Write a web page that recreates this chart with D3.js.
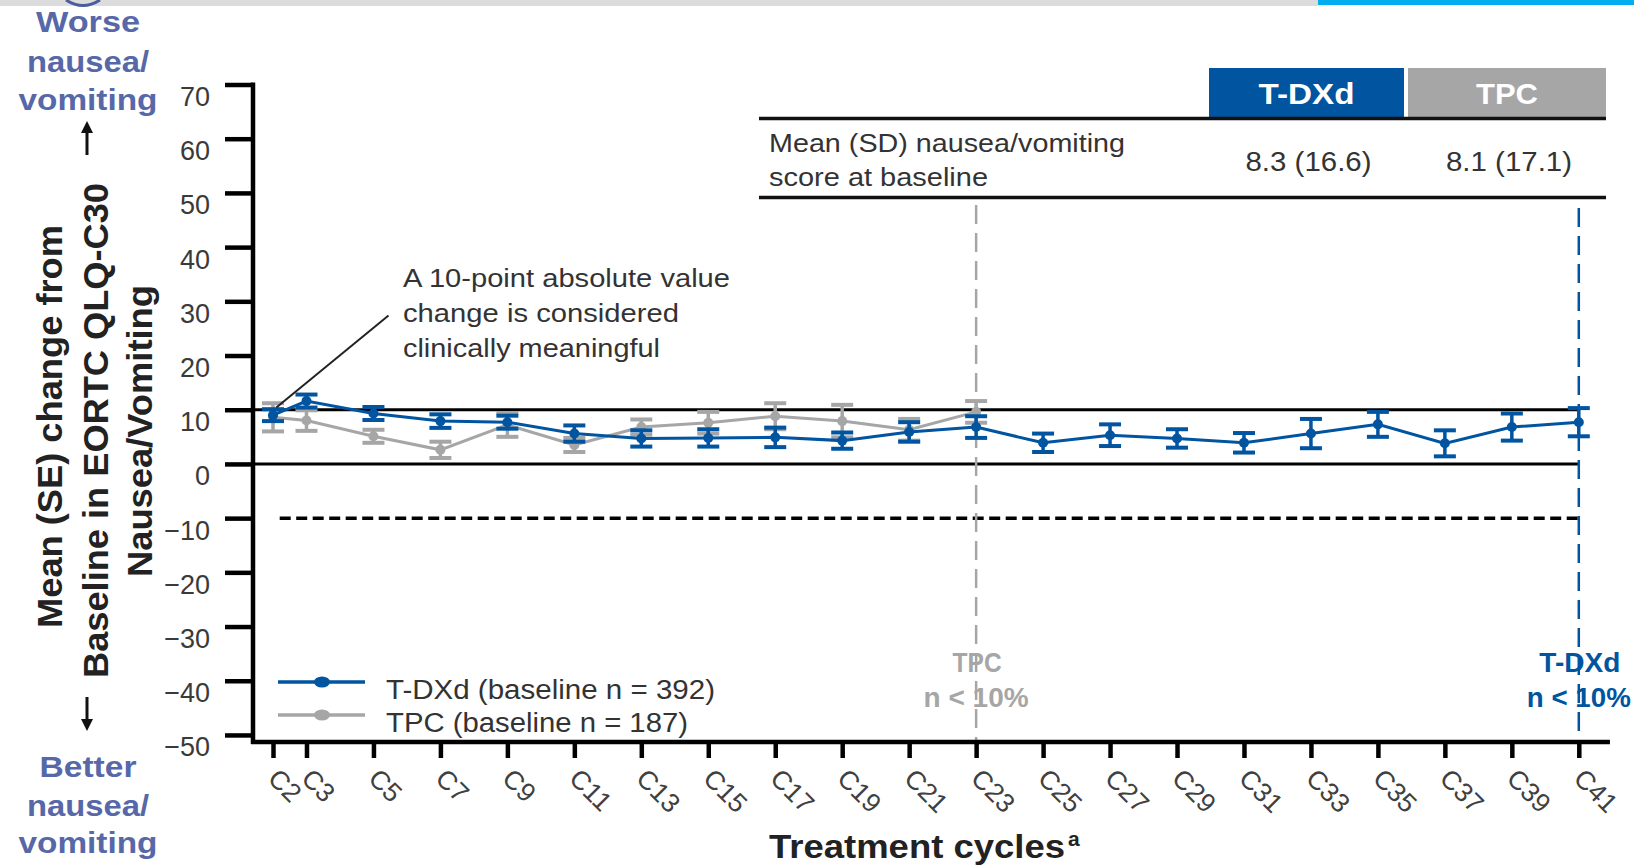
<!DOCTYPE html>
<html>
<head>
<meta charset="utf-8">
<script src="https://cdn.jsdelivr.net/npm/d3@7"></script>
<style>
  html, body { margin: 0; padding: 0; background: #fff; }
  svg { display: block; font-family: "Liberation Sans", Arial, sans-serif; }
</style>
</head>
<body>
<svg id="chart" width="1634" height="867"></svg>
<script>
// ---------------- data ----------------
const cycles = [2, 3, 5, 7, 9, 11, 13, 15, 17, 19, 21, 23, 25, 27, 29, 31, 33, 35, 37, 39, 41];
const tdxdMean = [9.0, 11.6, 9.3, 7.9, 7.7, 5.6, 4.7, 4.8, 4.9, 4.3, 5.9, 6.8, 3.9, 5.3, 4.7, 3.9, 5.6, 7.3, 3.8, 6.8, 7.7];
const tdxdSE   = [1.1, 1.2, 1.2, 1.25, 1.2, 1.5, 1.5, 1.6, 1.8, 1.5, 1.8, 2.0, 1.7, 2.0, 1.7, 1.8, 2.7, 2.3, 2.4, 2.5, 2.6];
const tpcCycles = [2, 3, 5, 7, 9, 11, 13, 15, 17, 19, 21, 23];
const tpcMean = [8.6, 8.0, 5.1, 2.6, 7.2, 3.5, 6.8, 7.6, 8.8, 7.9, 6.3, 9.6];
const tpcSE   = [2.6, 1.9, 1.2, 1.5, 2.2, 1.3, 1.4, 2.0, 2.4, 3.0, 2.0, 2.0];
const yTicks = [-50, -40, -30, -20, -10, 0, 10, 20, 30, 40, 50, 60, 70];
const xTickLabels = cycles.map(c => "C" + c);
const seriesNames = ["T-DXd (baseline  n = 392)", "TPC (baseline n = 187)"];
const tableHeaders = ["T-DXd", "TPC"];
const tableRowLabel = ["Mean (SD) nausea/vomiting", "score at baseline"];
const tableValues = ["8.3 (16.6)", "8.1 (17.1)"];
const cutoffCycles = { TPC: 23, TDXd: 41 };
const mcidValue = 10;

// ---------------- setup ----------------
const BLUE = "#0054a0", GRAY = "#a6a6a6", SIDE = "#5668a8", TXT = "#333333";
const svg = d3.select("#chart");
const x = d3.scaleLinear().domain([2, 41]).range([273, 1578.8]);
const y = d3.scaleLinear().domain([-51.3, 70]).range([742, 84.5]);

// slide decoration at top
svg.append("rect").attr("x", 0).attr("y", 0).attr("width", 1318).attr("height", 6).attr("fill", "#dcdcdc");
svg.append("rect").attr("x", 1318).attr("y", 0).attr("width", 316).attr("height", 5).attr("fill", "#00aeef");
svg.append("path").attr("d", "M66,0 Q83,11 100,0").attr("fill", "none").attr("stroke", "#4a5d9e").attr("stroke-width", 3);

// ---------------- reference lines ----------------
const refG = svg.append("g");
[mcidValue, 0].forEach(v => {
  refG.append("line").attr("x1", 253).attr("x2", x(41)).attr("y1", y(v)).attr("y2", y(v))
    .attr("stroke", "#000").attr("stroke-width", 3);
});
refG.append("line").attr("x1", x(2.2)).attr("x2", x(41)).attr("y1", y(-mcidValue)).attr("y2", y(-mcidValue))
  .attr("stroke", "#000").attr("stroke-width", 3.5).attr("stroke-dasharray", "11,5.5");

// vertical cut-off lines
refG.append("line").attr("x1", x(cutoffCycles.TPC)).attr("x2", x(cutoffCycles.TPC))
  .attr("y1", 205).attr("y2", 742).attr("stroke", GRAY).attr("stroke-width", 2.5).attr("stroke-dasharray", "19,9");
refG.append("line").attr("x1", x(cutoffCycles.TDXd)).attr("x2", x(cutoffCycles.TDXd))
  .attr("y1", 208).attr("y2", 742).attr("stroke", BLUE).attr("stroke-width", 2.5).attr("stroke-dasharray", "19,9");

// ---------------- axes ----------------
const yAxis = d3.axisLeft(y).tickValues(yTicks).tickSize(28).tickSizeOuter(0)
  .tickFormat(d => d < 0 ? "\u2212" + Math.abs(d) : String(d));
const yg = svg.append("g").attr("transform", "translate(253,0)").call(yAxis);
yg.select(".domain").attr("stroke", "#000").attr("stroke-width", 4.5)
  .attr("d", `M0,${y(70) - 2}V${y(-51.3) + 2}`);
yg.selectAll(".tick line").attr("stroke", "#000").attr("stroke-width", 4.5);
yg.selectAll(".tick text").attr("x", -43).attr("dy", 21).attr("font-size", 27)
  .attr("fill", "#3a3a3a").attr("font-family", "Liberation Sans, Arial, sans-serif");

const xAxis = d3.axisBottom(x).tickValues(cycles).tickSize(16).tickSizeOuter(0).tickFormat((d, i) => xTickLabels[i]);
const xg = svg.append("g").attr("transform", `translate(0,${y(-51.3)})`).call(xAxis);
xg.select(".domain").attr("stroke", "#000").attr("stroke-width", 4.5)
  .attr("d", `M${x(1.35)},0H${x(41.93)}`);
xg.selectAll(".tick line").attr("stroke", "#000").attr("stroke-width", 4.5);
xg.selectAll(".tick text")
  .attr("font-size", 26.5).attr("fill", "#404040").attr("font-family", "Liberation Sans, Arial, sans-serif")
  .attr("text-anchor", "start").attr("dy", null).attr("y", null)
  .attr("transform", "translate(-7,38) rotate(45)");

// ---------------- series ----------------
function drawSeries(xs, means, ses, color) {
  const g = svg.append("g");
  const pts = xs.map((c, i) => ({ c, m: means[i], se: ses[i] }));
  g.append("path").datum(pts)
    .attr("d", d3.line().x(d => x(d.c)).y(d => y(d.m)))
    .attr("fill", "none").attr("stroke", color).attr("stroke-width", 3);
  const eb = g.selectAll(".eb").data(pts).enter().append("g");
  eb.append("line").attr("x1", d => x(d.c)).attr("x2", d => x(d.c))
    .attr("y1", d => y(d.m + d.se)).attr("y2", d => y(d.m - d.se))
    .attr("stroke", color).attr("stroke-width", 3.5);
  [1, -1].forEach(s => {
    eb.append("line").attr("x1", d => x(d.c) - 11).attr("x2", d => x(d.c) + 11)
      .attr("y1", d => y(d.m + s * d.se)).attr("y2", d => y(d.m + s * d.se))
      .attr("stroke", color).attr("stroke-width", 4);
  });
  eb.append("circle").attr("cx", d => x(d.c)).attr("cy", d => y(d.m)).attr("r", 5).attr("fill", color);
}
drawSeries(tpcCycles, tpcMean, tpcSE, GRAY);
drawSeries(cycles, tdxdMean, tdxdSE, BLUE);

// ---------------- annotation ----------------
svg.append("line").attr("x1", x(5.45)).attr("y1", y(27.4)).attr("x2", x(2.1)).attr("y2", y(10.4))
  .attr("stroke", "#222").attr("stroke-width", 2);
const annLines = ["A 10-point absolute  value", "change is considered", "clinically meaningful"];
const annLen = [327, 276, 257];
annLines.forEach((t, i) => {
  svg.append("text").attr("x", 403).attr("y", 287 + i * 35).attr("font-size", 26).attr("fill", TXT)
    .attr("textLength", annLen[i]).attr("lengthAdjust", "spacingAndGlyphs").text(t);
});

// ---------------- cut-off labels ----------------
[["TPC", "n < 10%", cutoffCycles.TPC, GRAY, 49, 105], ["T-DXd", "n < 10%", cutoffCycles.TDXd, BLUE, 81, 104]].forEach(d => {
  svg.append("text").attr("x", x(d[2]) + 1).attr("y", 672).attr("text-anchor", "middle")
    .attr("font-size", 27).attr("font-weight", "bold").attr("fill", d[3])
    .attr("textLength", d[4]).attr("lengthAdjust", "spacingAndGlyphs").text(d[0]);
  svg.append("text").attr("x", x(d[2])).attr("y", 707).attr("text-anchor", "middle")
    .attr("font-size", 27).attr("font-weight", "bold").attr("fill", d[3])
    .attr("textLength", d[5]).attr("lengthAdjust", "spacingAndGlyphs").text(d[1]);
});

// ---------------- legend ----------------
const legColors = [BLUE, GRAY];
const legLen = [329, 302];
seriesNames.forEach((n, i) => {
  const ly = 682 + i * 33;
  svg.append("line").attr("x1", 278).attr("x2", 365).attr("y1", ly).attr("y2", ly)
    .attr("stroke", legColors[i]).attr("stroke-width", 3.5);
  svg.append("ellipse").attr("cx", 322).attr("cy", ly).attr("rx", 8).attr("ry", 5.5).attr("fill", legColors[i]);
  svg.append("text").attr("x", 386).attr("y", ly + 17).attr("font-size", 27).attr("fill", TXT)
    .attr("textLength", legLen[i]).attr("lengthAdjust", "spacingAndGlyphs").text(n);
});

// ---------------- table ----------------
const hdrColors = [BLUE, GRAY];
const hdrX = [1209, 1408], hdrW = [195, 198], hdrTextLen = [96, 62];
tableHeaders.forEach((h, i) => {
  svg.append("rect").attr("x", hdrX[i]).attr("y", 68).attr("width", hdrW[i]).attr("height", 49).attr("fill", hdrColors[i]);
  svg.append("text").attr("x", hdrX[i] + hdrW[i] / 2).attr("y", 104).attr("text-anchor", "middle")
    .attr("font-size", 30).attr("font-weight", "bold").attr("fill", "#fff")
    .attr("textLength", hdrTextLen[i]).attr("lengthAdjust", "spacingAndGlyphs").text(h);
});
svg.append("line").attr("x1", 759).attr("x2", 1606).attr("y1", 118.5).attr("y2", 118.5).attr("stroke", "#111").attr("stroke-width", 3.5);
svg.append("line").attr("x1", 759).attr("x2", 1606).attr("y1", 197.5).attr("y2", 197.5).attr("stroke", "#111").attr("stroke-width", 3.5);
const rowLen = [356, 219];
tableRowLabel.forEach((t, i) => {
  svg.append("text").attr("x", 769).attr("y", 152 + i * 34).attr("font-size", 26).attr("fill", TXT)
    .attr("textLength", rowLen[i]).attr("lengthAdjust", "spacingAndGlyphs").text(t);
});
tableValues.forEach((t, i) => {
  svg.append("text").attr("x", hdrX[i] + hdrW[i] / 2 + 2).attr("y", 171).attr("text-anchor", "middle")
    .attr("font-size", 27).attr("fill", TXT)
    .attr("textLength", 126).attr("lengthAdjust", "spacingAndGlyphs").text(t);
});

// ---------------- axis titles ----------------
const yTitle = ["Mean (SE) change from", "Baseline  in  EORTC QLQ-C30", "Nausea/Vomiting"];
const yTitleX = [62, 108, 152], yTitleC = [426.5, 430.5, 431], yTitleLen = [403, 495, 292];
yTitle.forEach((t, i) => {
  svg.append("text").attr("transform", `translate(${yTitleX[i]},${yTitleC[i]}) rotate(-90)`)
    .attr("text-anchor", "middle").attr("font-size", 35).attr("font-weight", "bold").attr("fill", "#222")
    .attr("textLength", yTitleLen[i]).attr("lengthAdjust", "spacingAndGlyphs").text(t);
});
// arrows
const defs = svg.append("defs");
defs.append("marker").attr("id", "ah").attr("viewBox", "0 0 10 10").attr("refX", 5).attr("refY", 5)
  .attr("markerWidth", 4).attr("markerHeight", 4).attr("orient", "auto-start-reverse")
  .append("path").attr("d", "M0,0L10,5L0,10z").attr("fill", "#111");
svg.append("line").attr("x1", 87).attr("x2", 87).attr("y1", 155).attr("y2", 127)
  .attr("stroke", "#111").attr("stroke-width", 3).attr("marker-end", "url(#ah)");
svg.append("line").attr("x1", 87).attr("x2", 87).attr("y1", 697).attr("y2", 725)
  .attr("stroke", "#111").attr("stroke-width", 3).attr("marker-end", "url(#ah)");

// worse / better labels
const worse = ["Worse", "nausea/", "vomiting"], better = ["Better", "nausea/", "vomiting"];
const sideLen = [104, 122, 139];
worse.forEach((t, i) => {
  svg.append("text").attr("x", 88).attr("y", [32, 72, 110][i]).attr("text-anchor", "middle")
    .attr("font-size", 29).attr("font-weight", "bold").attr("fill", SIDE)
    .attr("textLength", sideLen[i]).attr("lengthAdjust", "spacingAndGlyphs").text(t);
});
better.forEach((t, i) => {
  svg.append("text").attr("x", 88).attr("y", [777, 816, 853][i]).attr("text-anchor", "middle")
    .attr("font-size", 29).attr("font-weight", "bold").attr("fill", SIDE)
    .attr("textLength", [97, 122, 139][i]).attr("lengthAdjust", "spacingAndGlyphs").text(t);
});

// x title
svg.append("text").attr("x", 769).attr("y", 858).attr("font-size", 33).attr("font-weight", "bold").attr("fill", "#222")
  .attr("textLength", 296).attr("lengthAdjust", "spacingAndGlyphs").text("Treatment cycles");
svg.append("text").attr("x", 1068).attr("y", 846).attr("font-size", 21).attr("font-weight", "bold").attr("fill", "#222").text("a");
</script>
</body>
</html>
